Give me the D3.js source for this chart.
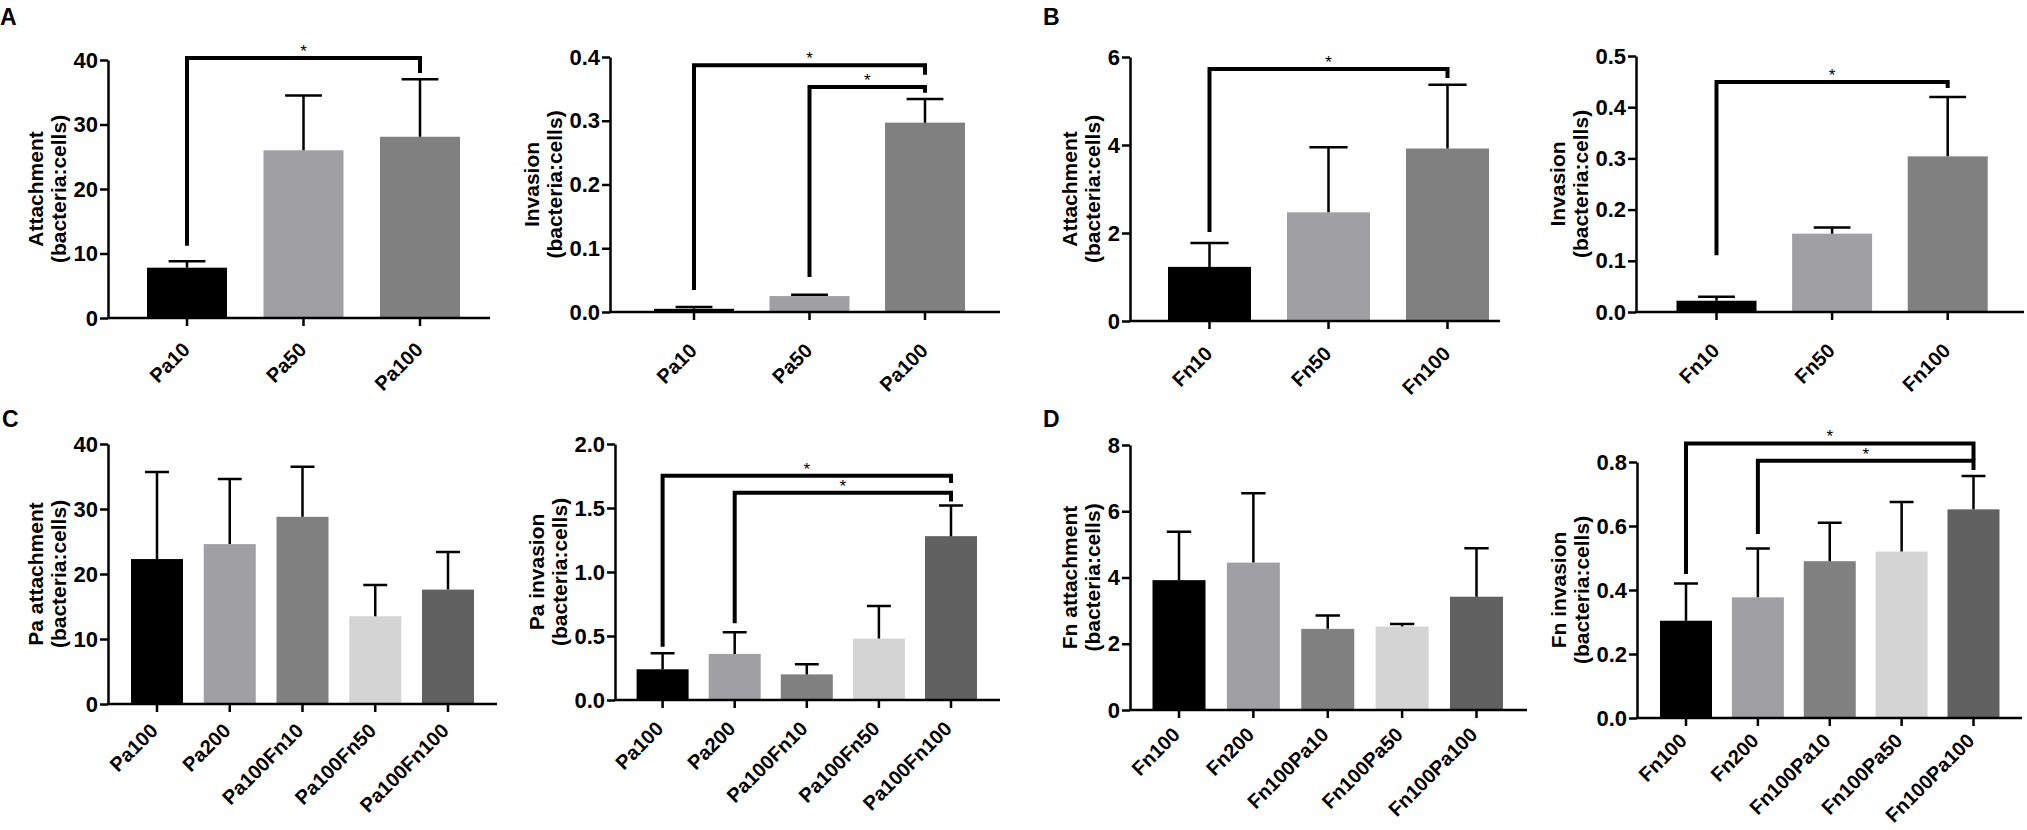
<!DOCTYPE html>
<html>
<head>
<meta charset="utf-8">
<script src="https://cdn.jsdelivr.net/npm/d3@7"></script>
<style>
  html, body { margin: 0; padding: 0; background: #fff; }
  svg { display: block; font-family: Arial, "Liberation Sans", Helvetica, sans-serif; }
  .tick text { font-weight: bold; fill: #000; }
</style>
</head>
<body>
<svg class="mainSvg"></svg>
<script>
// ===========================================================================
//     data area
// ===========================================================================
const paDose = ['Pa10', 'Pa50', 'Pa100'];
const fnDose = ['Fn10', 'Fn50', 'Fn100'];
const paMix = ['Pa100', 'Pa200', 'Pa100Fn10', 'Pa100Fn50', 'Pa100Fn100'];
const fnMix = ['Fn100', 'Fn200', 'Fn100Pa10', 'Fn100Pa50', 'Fn100Pa100'];

// means and SD (upper whisker length)
const paAttach = [7.8, 26.0, 28.1];
const paAttachSd = [1.0, 8.5, 8.9];
const paInvade = [0.005, 0.025, 0.297];
const paInvadeSd = [0.003, 0.002, 0.037];
const fnAttach = [1.23, 2.47, 3.92];
const fnAttachSd = [0.54, 1.48, 1.45];
const fnInvade = [0.022, 0.153, 0.304];
const fnInvadeSd = [0.008, 0.012, 0.116];
const paMixAttach = [22.3, 24.6, 28.8, 13.5, 17.6];
const paMixAttachSd = [13.4, 10.0, 7.7, 4.8, 5.8];
const paMixInvade = [0.24, 0.36, 0.20, 0.48, 1.28];
const paMixInvadeSd = [0.125, 0.17, 0.08, 0.255, 0.24];
const fnMixAttach = [3.92, 4.45, 2.45, 2.52, 3.42];
const fnMixAttachSd = [1.46, 2.09, 0.40, 0.08, 1.46];
const fnMixInvade = [0.304, 0.377, 0.49, 0.52, 0.652];
const fnMixInvadeSd = [0.116, 0.153, 0.12, 0.155, 0.104];

// significance brackets: [from, to, bar level, left leg end, right leg end] (data units)
const sigPaAttach = [[0, 2, 40.3, 11.2, 38.0]];
const sigPaInvade = [[0, 2, 0.387, 0.0345, 0.372], [1, 2, 0.353, 0.055, 0.344]];
const sigFnAttach = [[0, 2, 5.73, 2.02, 5.52]];
const sigFnInvade = [[0, 2, 0.449, 0.111, 0.4375]];
const sigPaMixInvade = [[0, 4, 1.752, 0.416, 1.695], [1, 4, 1.62, 0.60, 1.55]];
const sigFnMixInvade = [[0, 4, 0.858, 0.45, 0.806], [1, 4, 0.804, 0.575, 0.775]];

// y axis ticks
const ticks40 = [0, 10, 20, 30, 40];
const ticks04 = [0, 0.1, 0.2, 0.3, 0.4];
const ticks6 = [0, 2, 4, 6];
const ticks05 = [0, 0.1, 0.2, 0.3, 0.4, 0.5];
const ticks2 = [0, 0.5, 1.0, 1.5, 2.0];
const ticks8 = [0, 2, 4, 6, 8];
const ticks08 = [0, 0.2, 0.4, 0.6, 0.8];

const barColors = ['#000000', '#a0a0a4', '#808080', '#d4d4d4', '#616161'];

// ===========================================================================
//      layout
// ===========================================================================
const initWidth = 2027;
const initHeight = 830;
const axisWidth = 2.5;
const bracketWidth = 4;
const fontTick = 22;
const fontTitle = 21;

const panels = [
  { cats: paDose, vals: paAttach, sd: paAttachSd, sig: sigPaAttach, ticks: ticks40, fmt: '.0f',
    title: ['Attachment', '(bacteria:cells)'], x0: 108, xEnd: 490, yTop: 60, y0: 318, c0: 187, cN: 420, w: 80, lab: [4, 33] },
  { cats: paDose, vals: paInvade, sd: paInvadeSd, sig: sigPaInvade, ticks: ticks04, fmt: '.1f',
    title: ['Invasion', '(bacteria:cells)'], x0: 610, xEnd: 1000, yTop: 57, y0: 312, c0: 694, cN: 925, w: 80, lab: [4, 40] },
  { cats: fnDose, vals: fnAttach, sd: fnAttachSd, sig: sigFnAttach, ticks: ticks6, fmt: '.0f',
    title: ['Attachment', '(bacteria:cells)'], x0: 1130, xEnd: 1500, yTop: 57, y0: 321, c0: 1209.5, cN: 1447.5, w: 83, lab: [4, 34] },
  { cats: fnDose, vals: fnInvade, sd: fnInvadeSd, sig: sigFnInvade, ticks: ticks05, fmt: '.1f',
    title: ['Invasion', '(bacteria:cells)'], x0: 1636, xEnd: 2024, yTop: 56, y0: 312, c0: 1716.5, cN: 1947.7, w: 80, lab: [4, 40] },
  { cats: paMix, vals: paMixAttach, sd: paMixAttachSd, sig: [], ticks: ticks40, fmt: '.0f',
    title: ['Pa attachment', '(bacteria:cells)'], x0: 108, xEnd: 497, yTop: 444, y0: 704, c0: 157, cN: 448, w: 52, lab: [2, 28] },
  { cats: paMix, vals: paMixInvade, sd: paMixInvadeSd, sig: sigPaMixInvade, ticks: ticks2, fmt: '.1f',
    title: ['Pa invasion', '(bacteria:cells)'], x0: 615, xEnd: 1000, yTop: 444, y0: 700, c0: 662.6, cN: 951, w: 52, lab: [2, 30] },
  { cats: fnMix, vals: fnMixAttach, sd: fnMixAttachSd, sig: [], ticks: ticks8, fmt: '.0f',
    title: ['Fn attachment', '(bacteria:cells)'], x0: 1130, xEnd: 1527, yTop: 445, y0: 710, c0: 1179, cN: 1476.5, w: 53, lab: [2, 26] },
  { cats: fnMix, vals: fnMixInvade, sd: fnMixInvadeSd, sig: sigFnMixInvade, ticks: ticks08, fmt: '.1f',
    title: ['Fn invasion', '(bacteria:cells)'], x0: 1637, xEnd: 2022, yTop: 462, y0: 718, c0: 1686, cN: 1973.5, w: 52, lab: [2, 24] },
];

const letters = [
  { t: 'A', x: 0, y: 25 }, { t: 'B', x: 1043, y: 25 },
  { t: 'C', x: 2, y: 427 }, { t: 'D', x: 1043, y: 427 },
];

// ===========================================================================
//      procedure
// ===========================================================================
const svg = d3.select('.mainSvg')
  .attr('width', initWidth)
  .attr('height', initHeight);

svg.append('rect').attr('width', initWidth).attr('height', initHeight).attr('fill', '#fff');

panels.forEach(function (p) {
  const n = p.cats.length;
  const step = (p.cN - p.c0) / (n - 1);
  const pad = 1 - p.w / step;
  const x = d3.scaleBand()
    .domain(p.cats)
    .range([p.c0 - step / 2, p.cN + step / 2])
    .paddingInner(pad)
    .paddingOuter(pad / 2);
  const y = d3.scaleLinear()
    .domain([0, d3.max(p.ticks)])
    .range([p.y0, p.yTop]);

  const g = svg.append('g');

  // bars
  g.selectAll('rect.bar')
    .data(p.vals)
    .enter()
    .append('rect')
    .attr('class', 'bar')
    .attr('x', (d, i) => x(p.cats[i]))
    .attr('y', d => y(d))
    .attr('width', x.bandwidth())
    .attr('height', d => p.y0 - y(d))
    .attr('fill', (d, i) => barColors[i]);

  // error bars (upper whisker only)
  const cap = x.bandwidth() * 0.46;
  const err = g.append('g')
    .attr('stroke', '#000')
    .attr('stroke-width', axisWidth)
    .attr('fill', 'none');
  p.vals.forEach(function (v, i) {
    const cx = x(p.cats[i]) + x.bandwidth() / 2;
    const top = y(v + p.sd[i]);
    err.append('path')
      .attr('d', `M${cx} ${y(v)}V${top}M${cx - cap / 2} ${top}H${cx + cap / 2}`);
  });

  // y axis
  const yAxis = g.append('g')
    .attr('transform', `translate(${p.x0},0)`)
    .call(d3.axisLeft(y)
      .tickValues(p.ticks)
      .tickFormat(d3.format(p.fmt))
      .tickSize(8)
      .tickSizeOuter(0)
      .tickPadding(2));
  yAxis.selectAll('path, line').attr('stroke', '#000').attr('stroke-width', axisWidth);
  yAxis.selectAll('text').style('font-size', fontTick + 'px');

  // x axis
  const xAxis = g.append('g')
    .attr('transform', `translate(0,${p.y0})`)
    .call(d3.axisBottom(x).tickSize(8).tickSizeOuter(0));
  xAxis.select('.domain').attr('d', `M${p.x0 - 1} 0H${p.xEnd}`);
  xAxis.selectAll('path, line').attr('stroke', '#000').attr('stroke-width', axisWidth);
  xAxis.selectAll('text')
    .style('font-size', '20px')
    .attr('text-anchor', 'end')
    .attr('x', 0)
    .attr('y', 0)
    .attr('dy', 0)
    .attr('transform', `translate(${p.lab[0]},${p.lab[1]}) rotate(-45)`);

  // y title, placed left of tick labels
  const box = yAxis.node().getBBox();
  const line2 = p.x0 + box.x - 15;
  const ymid = (p.y0 + p.yTop) / 2;
  p.title.forEach(function (t, k) {
    const cx = k === 0 ? line2 - 23 : line2;
    g.append('text')
      .attr('transform', `translate(${cx},${ymid}) rotate(-90)`)
      .attr('text-anchor', 'middle')
      .attr('dy', '0.36em')
      .style('font-size', fontTitle + 'px')
      .style('font-weight', 'bold')
      .text(t);
  });

  // significance brackets
  p.sig.forEach(function (s) {
    const xa = x(p.cats[s[0]]) + x.bandwidth() / 2;
    const xb = x(p.cats[s[1]]) + x.bandwidth() / 2;
    g.append('path')
      .attr('d', `M${xa} ${y(s[3])}V${y(s[2])}H${xb}V${y(s[4])}`)
      .attr('fill', 'none')
      .attr('stroke', '#000')
      .attr('stroke-width', bracketWidth)
      .attr('stroke-linejoin', 'miter');
    g.append('text')
      .attr('x', (xa + xb) / 2)
      .attr('y', y(s[2]) - 1)
      .attr('text-anchor', 'middle')
      .style('font-size', '17px')
      .text('*');
  });
});

svg.selectAll('text.letter')
  .data(letters)
  .enter()
  .append('text')
  .attr('class', 'letter')
  .attr('x', d => d.x)
  .attr('y', d => d.y)
  .style('font-size', '23px')
  .style('font-weight', 'bold')
  .text(d => d.t);
</script>
</body>
</html>
